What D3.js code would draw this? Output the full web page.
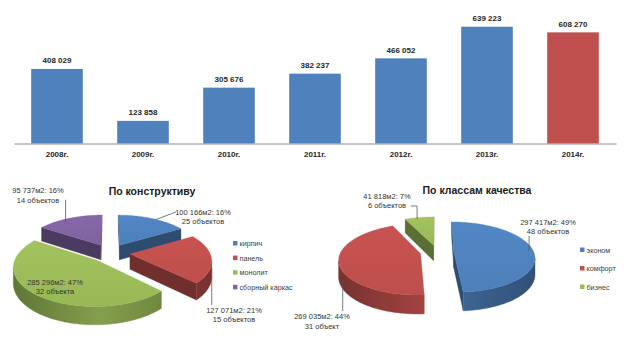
<!DOCTYPE html>
<html><head><meta charset="utf-8">
<script src="https://cdn.jsdelivr.net/npm/d3@7"></script>
<style>
body{margin:0;background:#fff}
svg{display:block}
text{font-family:"Liberation Sans",Arial,sans-serif}
</style>
</head><body>
<svg id="chart" width="624" height="346"></svg>
<script>
// Ввод жилья по годам, м2
const years = ["2008г.","2009г.","2010г.","2011г.","2012г.","2013г.","2014г."];
const volumes = [408029,123858,305676,382237,466052,639223,608270];

// По конструктиву
const structTypes = ["кирпич","панель","монолит","сборный каркас"];
const structArea = [100166,127071,285296,95737];
const structShare = [16,21,47,16];
const structObjects = ["25 объектов","15 объектов","32 объекта","14 объектов"];

// По классам качества
const classTypes = ["эконом","комфорт","бизнес"];
const classArea = [297417,269035,41818];
const classShare = [49,44,7];
const classObjects = ["48 объектов","31 объект","6 объектов"];

const palette = ["#4F81BD","#C0504D","#9BBB59","#8064A2"];
const fmt = d3.formatLocale({decimal:",",thousands:" ",grouping:[3],currency:["",""]}).format(",d");

const svg = d3.select("#chart");
const defs = svg.append("defs");

// ---------- столбцы ----------
const x = d3.scaleBand().domain(years).range([14,616]).paddingInner(0.4).paddingOuter(0.2);
const y = d3.scaleLinear().domain([0,700000]).range([143.5,15.6]);

const bars = svg.append("g");
bars.selectAll("rect").data(volumes).join("rect")
  .attr("x",(d,i)=>x(years[i]))
  .attr("y",d=>y(d))
  .attr("width",x.bandwidth())
  .attr("height",d=>y(0)-y(d))
  .attr("fill",(d,i)=>i===volumes.length-1?palette[1]:palette[0]);

bars.selectAll("text").data(volumes).join("text")
  .attr("x",(d,i)=>x(years[i])+x.bandwidth()/2)
  .attr("y",d=>y(d)-5.5)
  .attr("text-anchor","middle")
  .attr("font-size",8).attr("font-weight","bold").attr("fill","#262626")
  .text(d=>fmt(d));

const axis = svg.append("g").attr("transform",`translate(0,${y(0)})`)
  .call(d3.axisBottom(x).tickSize(0).tickSizeOuter(0).tickPadding(8));
axis.select(".domain").attr("stroke","#8c8c8c").attr("stroke-width",1);
axis.selectAll("text").attr("font-size",8).attr("font-weight","bold").attr("fill","#262626")
  .attr("font-family","Liberation Sans, Arial, sans-serif");

// ---------- объёмные круговые диаграммы ----------
function pie3d(P, values, colors, key){
  const g = svg.append("g");
  const arcs = d3.pie().sort(null)(values);
  const cam = -1/P.k;
  const proj = (u,b,h)=>{const s=1/(1+P.k*b);return [P.cx+s*P.R*u, P.cy+s*(-P.R*P.t*b+P.H*h)];};
  const slices = arcs.map((a,i)=>{
    const mid=(a.startAngle+a.endAngle)/2;
    return {a,i,tu:P.e*Math.sin(mid),tb:P.e*Math.cos(mid)};
  });
  const pt = (s,th,r,h)=>proj(s.tu+r*Math.sin(th), s.tb+r*Math.cos(th), h);
  const line = d3.line();

  colors.forEach((c,i)=>{
    const col=d3.color(c);
    const gr=defs.append("linearGradient").attr("id",`${key}w${i}`)
      .attr("gradientUnits","userSpaceOnUse")
      .attr("x1",P.cx-P.R*1.2).attr("x2",P.cx+P.R*1.2).attr("y1",0).attr("y2",0);
    gr.append("stop").attr("offset",0).attr("stop-color",col.darker(1.3));
    gr.append("stop").attr("offset",0.45).attr("stop-color",col.darker(0.45));
    gr.append("stop").attr("offset",1).attr("stop-color",col.darker(1.3));
    const tg=defs.append("linearGradient").attr("id",`${key}t${i}`)
      .attr("x1",0).attr("x2",0).attr("y1",0).attr("y2",1);
    tg.append("stop").attr("offset",0).attr("stop-color",col.brighter(0.12));
    tg.append("stop").attr("offset",1).attr("stop-color",col.darker(0.05));
  });

  [...slices].sort((p,q)=>q.tb-p.tb).forEach(s=>{
    const {a,i}=s, c=d3.color(colors[i]);
    const th0=a.startAngle, th1=a.endAngle;
    const n=Math.max(2,Math.ceil((th1-th0)/(Math.PI/180)));
    const ths=d3.range(n+1).map(k=>th0+(th1-th0)*k/n);
    const tipT=proj(s.tu,s.tb,0), tipB=proj(s.tu,s.tb,1);
    const sg=g.append("g");
    // торцы сектора
    const faceVis=(nu,nb)=>nu*(0-s.tu)+nb*(cam-s.tb)>0;
    if(th1-th0<Math.PI*2-1e-6){
      if(faceVis(-Math.cos(th0),Math.sin(th0)))
        sg.append("path").attr("d",line([tipT,pt(s,th0,1,0),pt(s,th0,1,1),tipB])+"Z")
          .attr("fill",c.darker(1.5)).attr("stroke",c.darker(1.5)).attr("stroke-width",0.4);
      if(faceVis(Math.cos(th1),-Math.sin(th1)))
        sg.append("path").attr("d",line([tipT,tipB,pt(s,th1,1,1),pt(s,th1,1,0)])+"Z")
          .attr("fill",c.darker(1.5)).attr("stroke",c.darker(1.5)).attr("stroke-width",0.4);
    }
    // внешняя стенка
    let run=[];
    const flush=()=>{
      if(run.length>1){
        const top=run.map(t=>pt(s,t,1,0)), bot=run.map(t=>pt(s,t,1,1)).reverse();
        sg.append("path").attr("d",line(top.concat(bot))+"Z")
          .attr("fill",`url(#${key}w${i})`).attr("stroke",`url(#${key}w${i})`).attr("stroke-width",0.4);
      }
      run=[];
    };
    ths.forEach(t=>{
      const u=s.tu+Math.sin(t), b=s.tb+Math.cos(t);
      const vis=Math.sin(t)*(0-u)+Math.cos(t)*(cam-b)>0;
      if(vis) run.push(t); else flush();
    });
    flush();
    // верхняя грань
    sg.append("path").attr("d",line([tipT].concat(ths.map(t=>pt(s,t,1,0))))+"Z")
      .attr("fill",`url(#${key}t${i})`).attr("stroke",c).attr("stroke-width",0.3);
  });

  const deg=Math.PI/180;
  return {pointAt:(i,thDeg,r,h)=>pt(slices[i],thDeg*deg,r,h)};
}

const leftPie = pie3d({cx:110,cy:253,R:80,t:0.46,k:0.15,H:15,e:0.25}, structArea, palette, "s");
const rightPie = pie3d({cx:437,cy:252,R:80,t:0.43,k:0.15,H:16,e:0.21}, classArea, palette.slice(0,3), "c");

// ---------- подписи ----------
const labelG = svg.append("g").attr("fill","#333").attr("font-size",7.5);
function addLabel(line1, line2, cx, cy, leader){
  const t=labelG.append("text").attr("text-anchor","middle");
  t.append("tspan").attr("x",cx).attr("y",cy).attr("dy","0.35em").text(line1);
  t.append("tspan").attr("x",cx).attr("y",cy+9.5).attr("dy","0.35em").text(line2);
  if(leader){
    svg.append("path").attr("d",d3.line()(leader)).attr("fill","none")
      .attr("stroke","#595959").attr("stroke-width",0.8);
  }
}
const areaText=(v,p)=>`${fmt(v)}м2: ${p}%`;

// По конструктиву
{
  const e0=leftPie.pointAt(0,33,1,0);
  addLabel(areaText(structArea[0],structShare[0]),structObjects[0],203,212,[[176,212],e0]);
  const e1=leftPie.pointAt(1,100,1,0.5);
  addLabel(areaText(structArea[1],structShare[1]),structObjects[1],234,310,[[e1[0],305],e1]);
  addLabel(areaText(structArea[2],structShare[2]),structObjects[2],55,282,null);
  const e3=leftPie.pointAt(3,325,0.9,0);
  addLabel(areaText(structArea[3],structShare[3]),structObjects[3],38,190.5,[[66,200],[e3[0],200],e3]);
}
// По классам качества
{
  const e0=rightPie.pointAt(0,78,1,0.4);
  addLabel(areaText(classArea[0],classShare[0]),classObjects[0],548,222,[[e0[0],236],e0]);
  const e1=rightPie.pointAt(1,242,1,0.5);
  addLabel(areaText(classArea[1],classShare[1]),classObjects[1],322,316.5,[[e1[0],311],e1]);
  const e2=rightPie.pointAt(2,345,0.95,0);
  addLabel(areaText(classArea[2],classShare[2]),classObjects[2],387,196,[[411,206],[e2[0],206],e2]);
}

// заголовки
svg.append("text").attr("x",152).attr("y",195).attr("text-anchor","middle")
  .attr("font-size",10.5).attr("font-weight","bold").attr("fill","#1a1a1a").text("По конструктиву");
svg.append("text").attr("x",477).attr("y",194).attr("text-anchor","middle")
  .attr("font-size",10.5).attr("font-weight","bold").attr("fill","#1a1a1a").text("По классам качества");

// легенды
function legend(items, colors, x0, y0, step){
  const lg=svg.append("g");
  items.forEach((name,i)=>{
    lg.append("rect").attr("x",x0).attr("y",y0+i*step-2.5).attr("width",4.5).attr("height",4.5).attr("fill",colors[i]);
    lg.append("text").attr("x",x0+6.5).attr("y",y0+i*step).attr("dy","0.35em")
      .attr("font-size",7.2).attr("fill","#404040").text(name);
  });
}
legend(structTypes, palette, 233, 243.5, 14.6);
legend(classTypes, palette, 580, 250, 18.5);
</script>
</body></html>
